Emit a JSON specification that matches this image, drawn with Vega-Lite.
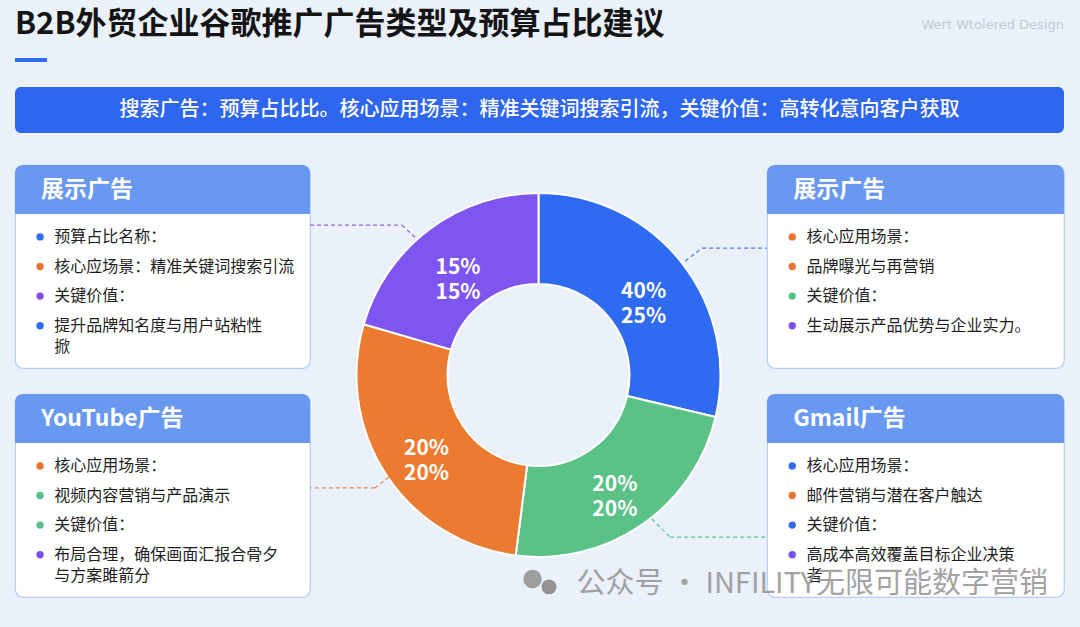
{
  "$schema": "https://vega.github.io/schema/vega-lite/v6.json",
  "background": "#eaf1fa",
  "padding": {"left": 13, "top": 0, "right": 17, "bottom": 30},
  "bounds": "flush",
  "spacing": 32,
  "resolve": {"scale": {"color": "independent"}},
  "config": {"view": {"stroke": null}, "font": "Noto Sans CJK SC"},
  "datasets": {
    "heading": [{"title": "B2B外贸企业谷歌推广广告类型及预算占比建议", "mark": "Wert Wtolered Design"}],
    "banner": [{"text": "搜索广告：预算占比比。核心应用场景：精准关键词搜索引流，关键价值：高转化意向客户获取"}],
    "watermark": [{"text": "公众号 · INFILITY无限可能数字营销"}],
    "slices": [
      {"k": 1, "name": "搜索广告", "share": 28.7, "label": "40%\n25%"},
      {"k": 2, "name": "Gmail广告", "share": 23.3, "label": "20%\n20%"},
      {"k": 3, "name": "YouTube广告", "share": 27.5, "label": "20%\n20%"},
      {"k": 4, "name": "展示广告", "share": 20.5, "label": "15%\n15%"}
    ],
    "cardL1": [
      {"kind": "header", "line": 0, "marker": "none", "text": "展示广告"},
      {"kind": "item", "line": 1, "marker": "blue", "text": "预算占比名称："},
      {"kind": "item", "line": 2, "marker": "orange", "text": "核心应场景：精准关键词搜索引流"},
      {"kind": "item", "line": 3, "marker": "purple", "text": "关键价值："},
      {"kind": "item", "line": 4, "marker": "blue", "text": "提升品牌知名度与用户站粘性\n掀"}
    ],
    "cardL2": [
      {"kind": "header", "line": 0, "marker": "none", "text": "YouTube广告"},
      {"kind": "item", "line": 1, "marker": "orange", "text": "核心应用场景："},
      {"kind": "item", "line": 2, "marker": "green", "text": "视频内容营销与产品演示"},
      {"kind": "item", "line": 3, "marker": "green", "text": "关键价值："},
      {"kind": "item", "line": 4, "marker": "purple", "text": "布局合理，确保画面汇报合骨夕\n与方案雎箭分"}
    ],
    "cardR1": [
      {"kind": "header", "line": 0, "marker": "none", "text": "展示广告"},
      {"kind": "item", "line": 1, "marker": "orange", "text": "核心应用场景："},
      {"kind": "item", "line": 2, "marker": "orange", "text": "品牌曝光与再营销"},
      {"kind": "item", "line": 3, "marker": "green", "text": "关键价值："},
      {"kind": "item", "line": 4, "marker": "purple", "text": "生动展示产品优势与企业实力。"}
    ],
    "cardR2": [
      {"kind": "header", "line": 0, "marker": "none", "text": "Gmail广告"},
      {"kind": "item", "line": 1, "marker": "blue", "text": "核心应用场景："},
      {"kind": "item", "line": 2, "marker": "orange", "text": "邮件营销与潜在客户触达"},
      {"kind": "item", "line": 3, "marker": "blue", "text": "关键价值："},
      {"kind": "item", "line": 4, "marker": "purple", "text": "高成本高效覆盖目标企业决策\n者"}
    ]
  },
  "vconcat": [
    {
      "width": 1049, "height": 55,
      "data": {"name": "heading"},
      "layer": [
        {"mark": {"type": "text", "align": "left", "baseline": "middle", "fontSize": 31, "fontWeight": "bold", "color": "#141414"},
         "encoding": {"text": {"field": "title"},
           "x": {"datum": 0, "type": "quantitative", "scale": {"domain": [0, 1]}, "axis": null},
           "y": {"datum": 0.55, "type": "quantitative", "scale": {"domain": [0, 1]}, "axis": null}}},
        {"mark": {"type": "text", "align": "right", "baseline": "middle", "fontSize": 13, "color": "#c2cad6", "font": "DejaVu Sans"},
         "encoding": {"text": {"field": "mark"},
           "x": {"datum": 1, "type": "quantitative", "scale": {"domain": [0, 1]}, "axis": null},
           "y": {"datum": 0.545, "type": "quantitative", "scale": {"domain": [0, 1]}, "axis": null}}},
        {"mark": {"type": "rule", "color": "#2f6df0", "strokeWidth": 4},
         "encoding": {
           "x": {"datum": 0, "type": "quantitative", "scale": {"domain": [0, 1]}, "axis": null},
           "x2": {"datum": 0.0305},
           "y": {"datum": -0.091, "type": "quantitative", "scale": {"domain": [0, 1]}, "axis": null}}}
      ]
    },
    {
      "width": 1049, "height": 46,
      "data": {"name": "banner"},
      "view": {"fill": "#2f66f0", "cornerRadius": 6, "stroke": null},
      "mark": {"type": "text", "fontSize": 20, "color": "#ffffff", "fontWeight": 500},
      "encoding": {"text": {"field": "text"}}
    },
    {
      "concat": [
        {
          "width": 295, "height": 203,
          "data": {"name": "cardL1"},
          "view": {"fill": "#ffffff", "stroke": "#b7cef4", "strokeWidth": 1.2, "cornerRadius": 8},
          "layer": [
            {"transform": [{"filter": "datum.kind === 'header'"}],
             "mark": {"type": "rect", "color": "#6898f0", "cornerRadiusTopLeft": 8, "cornerRadiusTopRight": 8},
             "encoding": {"y": {"datum": -1.43, "type": "quantitative", "scale": {"domain": [-1.43, 5.43], "reverse": true}, "axis": null}, "y2": {"datum": 0.226}}},
            {"transform": [{"filter": "datum.kind === 'header'"}],
             "mark": {"type": "text", "align": "left", "baseline": "middle", "fontSize": 23, "fontWeight": "bold", "color": "#ffffff"},
             "encoding": {"text": {"field": "text"},
               "x": {"datum": 0.088, "type": "quantitative", "scale": {"domain": [0, 1]}, "axis": null},
               "y": {"datum": -0.6, "type": "quantitative", "scale": {"domain": [-1.43, 5.43], "reverse": true}, "axis": null}}},
            {"transform": [{"filter": "datum.kind === 'item'"}],
             "mark": {"type": "point", "filled": true, "size": 55, "opacity": 1},
             "encoding": {
               "x": {"datum": 0.085, "type": "quantitative", "scale": {"domain": [0, 1]}, "axis": null},
               "y": {"field": "line", "type": "quantitative", "scale": {"domain": [-1.43, 5.43], "reverse": true}, "axis": null},
               "color": {"field": "marker", "type": "nominal", "scale": {"domain": ["blue", "orange", "purple", "green"], "range": ["#2f6df0", "#ea7530", "#7c4ff0", "#55c08c"]}, "legend": null}}},
            {"transform": [{"filter": "datum.kind === 'item'"}],
             "mark": {"type": "text", "align": "left", "baseline": "top", "dy": -8, "fontSize": 16, "color": "#1e1e1e", "lineBreak": "\n", "lineHeight": 21},
             "encoding": {"text": {"field": "text"},
               "x": {"datum": 0.133, "type": "quantitative", "scale": {"domain": [0, 1]}, "axis": null},
               "y": {"field": "line", "type": "quantitative", "scale": {"domain": [-1.43, 5.43], "reverse": true}, "axis": null}}}
          ]
        },
        {
          "width": 457, "height": 203,
          "data": {"name": "slices"},
          "layer": [
            {"mark": {"type": "arc", "outerRadius": 182, "innerRadius": 91, "stroke": "#ffffff", "strokeWidth": 2},
             "encoding": {
               "theta": {"field": "share", "type": "quantitative", "stack": true},
               "order": {"field": "k", "type": "quantitative"},
               "y": {"datum": 1.0345, "type": "quantitative", "scale": {"domain": [0, 1], "reverse": true}, "axis": null},
               "color": {"field": "name", "type": "nominal", "scale": {"domain": ["搜索广告", "Gmail广告", "YouTube广告", "展示广告"], "range": ["#2f6bf1", "#5ac287", "#ec7b32", "#7e55f1"]}, "legend": null}}},
            {"mark": {"type": "text", "radius": 134, "fontSize": 21, "fontWeight": "bold", "color": "#ffffff", "lineBreak": "\n", "lineHeight": 25},
             "encoding": {
               "theta": {"field": "share", "type": "quantitative", "stack": true},
               "order": {"field": "k", "type": "quantitative"},
               "y": {"datum": 1.0345, "type": "quantitative", "scale": {"domain": [0, 1], "reverse": true}, "axis": null},
               "text": {"field": "label"}}},
            {"data": {"name": "banner"}, "mark": {"type": "rule", "strokeDash": [4, 3], "strokeWidth": 1.2, "color": "#8a63f0"},
             "encoding": {"x": {"datum": 0, "type": "quantitative", "scale": {"domain": [0, 1]}, "axis": null}, "x2": {"datum": 0.201},
               "y": {"datum": 0.296, "type": "quantitative", "scale": {"domain": [0, 1], "reverse": true}, "axis": null}, "y2": {"datum": 0.296}}},
            {"data": {"name": "banner"}, "mark": {"type": "rule", "strokeDash": [4, 3], "strokeWidth": 1.2, "color": "#8a63f0"},
             "encoding": {"x": {"datum": 0.201, "type": "quantitative", "scale": {"domain": [0, 1]}, "axis": null}, "x2": {"datum": 0.232},
               "y": {"datum": 0.296, "type": "quantitative", "scale": {"domain": [0, 1], "reverse": true}, "axis": null}, "y2": {"datum": 0.36}}},
            {"data": {"name": "banner"}, "mark": {"type": "rule", "strokeDash": [4, 3], "strokeWidth": 1.2, "color": "#4a7ff0"},
             "encoding": {"x": {"datum": 0.821, "type": "quantitative", "scale": {"domain": [0, 1]}, "axis": null}, "x2": {"datum": 0.858},
               "y": {"datum": 0.473, "type": "quantitative", "scale": {"domain": [0, 1], "reverse": true}, "axis": null}, "y2": {"datum": 0.409}}},
            {"data": {"name": "banner"}, "mark": {"type": "rule", "strokeDash": [4, 3], "strokeWidth": 1.2, "color": "#4a7ff0"},
             "encoding": {"x": {"datum": 0.858, "type": "quantitative", "scale": {"domain": [0, 1]}, "axis": null}, "x2": {"datum": 1},
               "y": {"datum": 0.409, "type": "quantitative", "scale": {"domain": [0, 1], "reverse": true}, "axis": null}, "y2": {"datum": 0.409}}},
            {"data": {"name": "banner"}, "mark": {"type": "rule", "strokeDash": [4, 3], "strokeWidth": 1.2, "color": "#ec8a4a"},
             "encoding": {"x": {"datum": 0.173, "type": "quantitative", "scale": {"domain": [0, 1]}, "axis": null}, "x2": {"datum": 0.142},
               "y": {"datum": 1.537, "type": "quantitative", "scale": {"domain": [0, 1], "reverse": true}, "axis": null}, "y2": {"datum": 1.591}}},
            {"data": {"name": "banner"}, "mark": {"type": "rule", "strokeDash": [4, 3], "strokeWidth": 1.2, "color": "#ec8a4a"},
             "encoding": {"x": {"datum": 0.142, "type": "quantitative", "scale": {"domain": [0, 1]}, "axis": null}, "x2": {"datum": 0},
               "y": {"datum": 1.591, "type": "quantitative", "scale": {"domain": [0, 1], "reverse": true}, "axis": null}, "y2": {"datum": 1.591}}},
            {"data": {"name": "banner"}, "mark": {"type": "rule", "strokeDash": [4, 3], "strokeWidth": 1.2, "color": "#5cc48e"},
             "encoding": {"x": {"datum": 0.748, "type": "quantitative", "scale": {"domain": [0, 1]}, "axis": null}, "x2": {"datum": 0.788},
               "y": {"datum": 1.744, "type": "quantitative", "scale": {"domain": [0, 1], "reverse": true}, "axis": null}, "y2": {"datum": 1.833}}},
            {"data": {"name": "banner"}, "mark": {"type": "rule", "strokeDash": [4, 3], "strokeWidth": 1.2, "color": "#5cc48e"},
             "encoding": {"x": {"datum": 0.788, "type": "quantitative", "scale": {"domain": [0, 1]}, "axis": null}, "x2": {"datum": 1},
               "y": {"datum": 1.833, "type": "quantitative", "scale": {"domain": [0, 1], "reverse": true}, "axis": null}, "y2": {"datum": 1.833}}}
          ]
        },
        {
          "width": 297, "height": 203,
          "data": {"name": "cardR1"},
          "view": {"fill": "#ffffff", "stroke": "#b7cef4", "strokeWidth": 1.2, "cornerRadius": 8},
          "layer": [
            {"transform": [{"filter": "datum.kind === 'header'"}],
             "mark": {"type": "rect", "color": "#6898f0", "cornerRadiusTopLeft": 8, "cornerRadiusTopRight": 8},
             "encoding": {"y": {"datum": -1.43, "type": "quantitative", "scale": {"domain": [-1.43, 5.43], "reverse": true}, "axis": null}, "y2": {"datum": 0.226}}},
            {"transform": [{"filter": "datum.kind === 'header'"}],
             "mark": {"type": "text", "align": "left", "baseline": "middle", "fontSize": 23, "fontWeight": "bold", "color": "#ffffff"},
             "encoding": {"text": {"field": "text"},
               "x": {"datum": 0.088, "type": "quantitative", "scale": {"domain": [0, 1]}, "axis": null},
               "y": {"datum": -0.6, "type": "quantitative", "scale": {"domain": [-1.43, 5.43], "reverse": true}, "axis": null}}},
            {"transform": [{"filter": "datum.kind === 'item'"}],
             "mark": {"type": "point", "filled": true, "size": 55, "opacity": 1},
             "encoding": {
               "x": {"datum": 0.085, "type": "quantitative", "scale": {"domain": [0, 1]}, "axis": null},
               "y": {"field": "line", "type": "quantitative", "scale": {"domain": [-1.43, 5.43], "reverse": true}, "axis": null},
               "color": {"field": "marker", "type": "nominal", "scale": {"domain": ["blue", "orange", "purple", "green"], "range": ["#2f6df0", "#ea7530", "#7c4ff0", "#55c08c"]}, "legend": null}}},
            {"transform": [{"filter": "datum.kind === 'item'"}],
             "mark": {"type": "text", "align": "left", "baseline": "top", "dy": -8, "fontSize": 16, "color": "#1e1e1e", "lineBreak": "\n", "lineHeight": 21},
             "encoding": {"text": {"field": "text"},
               "x": {"datum": 0.133, "type": "quantitative", "scale": {"domain": [0, 1]}, "axis": null},
               "y": {"field": "line", "type": "quantitative", "scale": {"domain": [-1.43, 5.43], "reverse": true}, "axis": null}}}
          ]
        },
        {
          "width": 295, "height": 203,
          "data": {"name": "cardL2"},
          "view": {"fill": "#ffffff", "stroke": "#b7cef4", "strokeWidth": 1.2, "cornerRadius": 8},
          "layer": [
            {"transform": [{"filter": "datum.kind === 'header'"}],
             "mark": {"type": "rect", "color": "#6898f0", "cornerRadiusTopLeft": 8, "cornerRadiusTopRight": 8},
             "encoding": {"y": {"datum": -1.43, "type": "quantitative", "scale": {"domain": [-1.43, 5.43], "reverse": true}, "axis": null}, "y2": {"datum": 0.226}}},
            {"transform": [{"filter": "datum.kind === 'header'"}],
             "mark": {"type": "text", "align": "left", "baseline": "middle", "fontSize": 23, "fontWeight": "bold", "color": "#ffffff"},
             "encoding": {"text": {"field": "text"},
               "x": {"datum": 0.088, "type": "quantitative", "scale": {"domain": [0, 1]}, "axis": null},
               "y": {"datum": -0.6, "type": "quantitative", "scale": {"domain": [-1.43, 5.43], "reverse": true}, "axis": null}}},
            {"transform": [{"filter": "datum.kind === 'item'"}],
             "mark": {"type": "point", "filled": true, "size": 55, "opacity": 1},
             "encoding": {
               "x": {"datum": 0.085, "type": "quantitative", "scale": {"domain": [0, 1]}, "axis": null},
               "y": {"field": "line", "type": "quantitative", "scale": {"domain": [-1.43, 5.43], "reverse": true}, "axis": null},
               "color": {"field": "marker", "type": "nominal", "scale": {"domain": ["blue", "orange", "purple", "green"], "range": ["#2f6df0", "#ea7530", "#7c4ff0", "#55c08c"]}, "legend": null}}},
            {"transform": [{"filter": "datum.kind === 'item'"}],
             "mark": {"type": "text", "align": "left", "baseline": "top", "dy": -8, "fontSize": 16, "color": "#1e1e1e", "lineBreak": "\n", "lineHeight": 21},
             "encoding": {"text": {"field": "text"},
               "x": {"datum": 0.133, "type": "quantitative", "scale": {"domain": [0, 1]}, "axis": null},
               "y": {"field": "line", "type": "quantitative", "scale": {"domain": [-1.43, 5.43], "reverse": true}, "axis": null}}}
          ]
        },
        {
          "width": 457, "height": 203,
          "data": {"name": "watermark"},
          "layer": [
            {"mark": {"type": "point", "shape": "circle", "filled": true, "size": 340, "color": "#8f8f8f", "opacity": 0.85},
             "encoding": {
               "x": {"datum": 0.487, "type": "quantitative", "scale": {"domain": [0, 1]}, "axis": null},
               "y": {"datum": 0.911, "type": "quantitative", "scale": {"domain": [0, 1], "reverse": true}, "axis": null}}},
            {"mark": {"type": "point", "shape": "circle", "filled": true, "size": 270, "color": "#8f8f8f", "opacity": 0.95, "stroke": "#eef3fa", "strokeWidth": 1.5},
             "encoding": {
               "x": {"datum": 0.523, "type": "quantitative", "scale": {"domain": [0, 1]}, "axis": null},
               "y": {"datum": 0.95, "type": "quantitative", "scale": {"domain": [0, 1], "reverse": true}, "axis": null}}}
          ]
        },
        {
          "width": 297, "height": 203,
          "data": {"name": "cardR2"},
          "view": {"fill": "#ffffff", "stroke": "#b7cef4", "strokeWidth": 1.2, "cornerRadius": 8},
          "layer": [
            {"transform": [{"filter": "datum.kind === 'header'"}],
             "mark": {"type": "rect", "color": "#6898f0", "cornerRadiusTopLeft": 8, "cornerRadiusTopRight": 8},
             "encoding": {"y": {"datum": -1.43, "type": "quantitative", "scale": {"domain": [-1.43, 5.43], "reverse": true}, "axis": null}, "y2": {"datum": 0.226}}},
            {"transform": [{"filter": "datum.kind === 'header'"}],
             "mark": {"type": "text", "align": "left", "baseline": "middle", "fontSize": 23, "fontWeight": "bold", "color": "#ffffff"},
             "encoding": {"text": {"field": "text"},
               "x": {"datum": 0.088, "type": "quantitative", "scale": {"domain": [0, 1]}, "axis": null},
               "y": {"datum": -0.6, "type": "quantitative", "scale": {"domain": [-1.43, 5.43], "reverse": true}, "axis": null}}},
            {"transform": [{"filter": "datum.kind === 'item'"}],
             "mark": {"type": "point", "filled": true, "size": 55, "opacity": 1},
             "encoding": {
               "x": {"datum": 0.085, "type": "quantitative", "scale": {"domain": [0, 1]}, "axis": null},
               "y": {"field": "line", "type": "quantitative", "scale": {"domain": [-1.43, 5.43], "reverse": true}, "axis": null},
               "color": {"field": "marker", "type": "nominal", "scale": {"domain": ["blue", "orange", "purple", "green"], "range": ["#2f6df0", "#ea7530", "#7c4ff0", "#55c08c"]}, "legend": null}}},
            {"transform": [{"filter": "datum.kind === 'item'"}],
             "mark": {"type": "text", "align": "left", "baseline": "top", "dy": -8, "fontSize": 16, "color": "#1e1e1e", "lineBreak": "\n", "lineHeight": 21},
             "encoding": {"text": {"field": "text"},
               "x": {"datum": 0.133, "type": "quantitative", "scale": {"domain": [0, 1]}, "axis": null},
               "y": {"field": "line", "type": "quantitative", "scale": {"domain": [-1.43, 5.43], "reverse": true}, "axis": null}}},
            {"data": {"name": "watermark"},
             "mark": {"type": "text", "align": "right", "baseline": "middle", "fontSize": 29, "color": "#999999", "opacity": 0.9},
             "encoding": {"text": {"field": "text"},
               "x": {"datum": 0.946, "type": "quantitative", "scale": {"domain": [0, 1]}, "axis": null},
               "y": {"datum": 5.0, "type": "quantitative", "scale": {"domain": [-1.43, 5.43], "reverse": true}, "axis": null}}}
          ]
        }
      ],
      "columns": 3,
      "align": "each",
      "spacing": {"row": 26, "column": 0},
      "bounds": "flush",
      "resolve": {"scale": {"color": "independent"}}
    }
  ]
}
